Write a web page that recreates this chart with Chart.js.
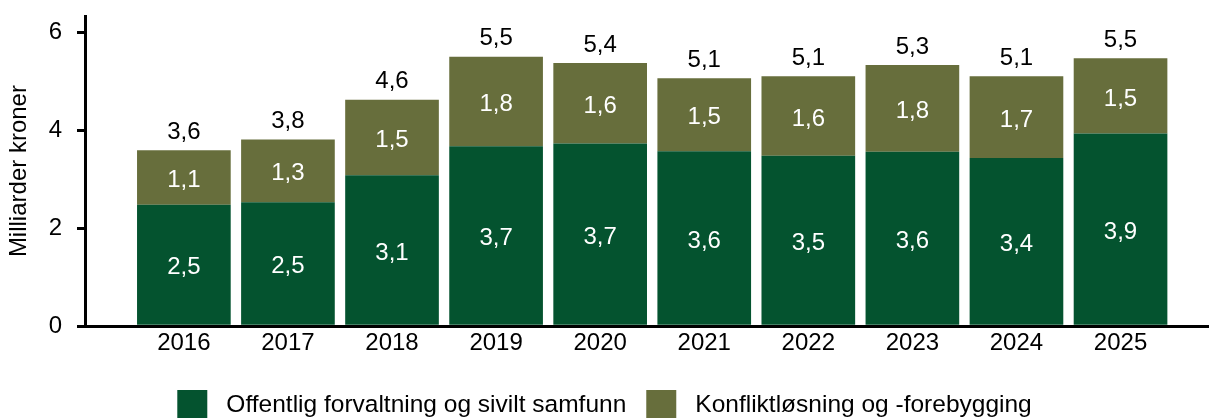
<!DOCTYPE html>
<html lang="no">
<head>
<meta charset="UTF-8">
<title>Milliarder kroner 2016–2025</title>
<script src="https://cdn.jsdelivr.net/npm/chart.js@4.4.1/dist/chart.umd.min.js"></script>
<style>
    html, body {
        margin: 0;
        padding: 0;
        background: #fff;
        overflow: hidden;
    }
    .chart-wrap {
        position: relative;
        width: 1209px;
        height: 430px;
    }
</style>
</head>
<body>
<div class="chart-wrap"><canvas id="bistandChart"></canvas></div>
<script>
    const years = ['2016', '2017', '2018', '2019', '2020', '2021', '2022', '2023', '2024', '2025'];
    const forvaltning = [2.48, 2.53, 3.08, 3.67, 3.73, 3.57, 3.48, 3.56, 3.43, 3.93];
    const konflikt = [1.11, 1.28, 1.54, 1.83, 1.64, 1.49, 1.62, 1.77, 1.67, 1.54];
    const yTicks = [0, 2, 4, 6];

    const FONT = "'Liberation Sans', Arial, sans-serif";
    const fmt = v => (Math.round(v * 10) / 10).toFixed(1).replace('.', ',');

    Chart.defaults.font.family = FONT;
    Chart.defaults.font.size = 24;
    Chart.defaults.color = '#000';

    // values written on and above each stacked bar
    const barLabels = {
        id: 'barLabels',
        afterDatasetsDraw(chart) {
            const ctx = chart.ctx;
            ctx.save();
            ctx.font = '24px ' + FONT;
            ctx.textAlign = 'center';
            ctx.textBaseline = 'middle';
            ctx.fillStyle = '#fff';
            chart.data.datasets.forEach((ds, di) => {
                chart.getDatasetMeta(di).data.forEach((bar, i) => {
                    ctx.fillText(fmt(ds.data[i].y), bar.x, (bar.y + bar.base) / 2 + 3);
                });
            });
            ctx.fillStyle = '#000';
            chart.getDatasetMeta(1).data.forEach((bar, i) => {
                ctx.fillText(fmt(forvaltning[i] + konflikt[i]), bar.x, bar.y - 18);
            });
            ctx.restore();
        }
    };

    const ctx = document.getElementById('bistandChart').getContext('2d');
    new Chart(ctx, {
        type: 'bar',
        data: {
            datasets: [{
                label: 'Offentlig forvaltning og sivilt samfunn',
                data: forvaltning.map((v, i) => ({ x: i, y: v })),
                backgroundColor: '#04532F',
                borderWidth: 0
            }, {
                label: 'Konfliktløsning og -forebygging',
                data: konflikt.map((v, i) => ({ x: i, y: v })),
                backgroundColor: '#676E3C',
                borderWidth: 0
            }]
        },
        options: {
            responsive: true,
            maintainAspectRatio: false,
            animation: false,
            categoryPercentage: 1,
            barPercentage: 0.9,
            layout: { padding: { top: 16, right: 0, left: 0, bottom: 0 } },
            plugins: {
                tooltip: { enabled: false },
                legend: {
                    position: 'bottom',
                    labels: {
                        boxWidth: 30,
                        boxHeight: 30,
                        padding: 20,
                        font: { size: 24.5 },
                        generateLabels(chart) {
                            return Chart.defaults.plugins.legend.labels.generateLabels(chart)
                                .map(item => Object.assign(item, { text: ' ' + item.text }));
                        }
                    }
                }
            },
            scales: {
                x: {
                    type: 'linear',
                    stacked: true,
                    offset: false,
                    min: -0.95,
                    max: 9.85,
                    afterBuildTicks: scale => { scale.ticks = years.map((_, i) => ({ value: i })); },
                    afterFit: scale => { scale.height += 9; },
                    ticks: {
                        includeBounds: false,
                        autoSkip: false,
                        maxRotation: 0,
                        padding: 3,
                        callback: value => years[value]
                    },
                    grid: { display: false, drawTicks: false },
                    border: { display: true, color: '#000', width: 3 }
                },
                y: {
                    stacked: true,
                    min: 0,
                    max: 6.33,
                    afterBuildTicks: scale => { scale.ticks = yTicks.map(v => ({ value: v })); },
                    afterFit: scale => {
                        scale.width = 85;
                        scale.paddingTop = 0;
                        scale.paddingBottom = 0;
                    },
                    ticks: {
                        includeBounds: false,
                        padding: 15,
                        callback: value => String(value)
                    },
                    grid: {
                        drawOnChartArea: false,
                        drawTicks: true,
                        tickLength: 8,
                        color: '#000',
                        lineWidth: 3
                    },
                    border: { display: true, color: '#000', width: 3 },
                    title: {
                        display: true,
                        text: 'Milliarder kroner',
                        font: { size: 24, lineHeight: 1.2 },
                        padding: { top: 5, bottom: 15 }
                    }
                }
            }
        },
        plugins: [barLabels]
    });
</script>
</body>
</html>
